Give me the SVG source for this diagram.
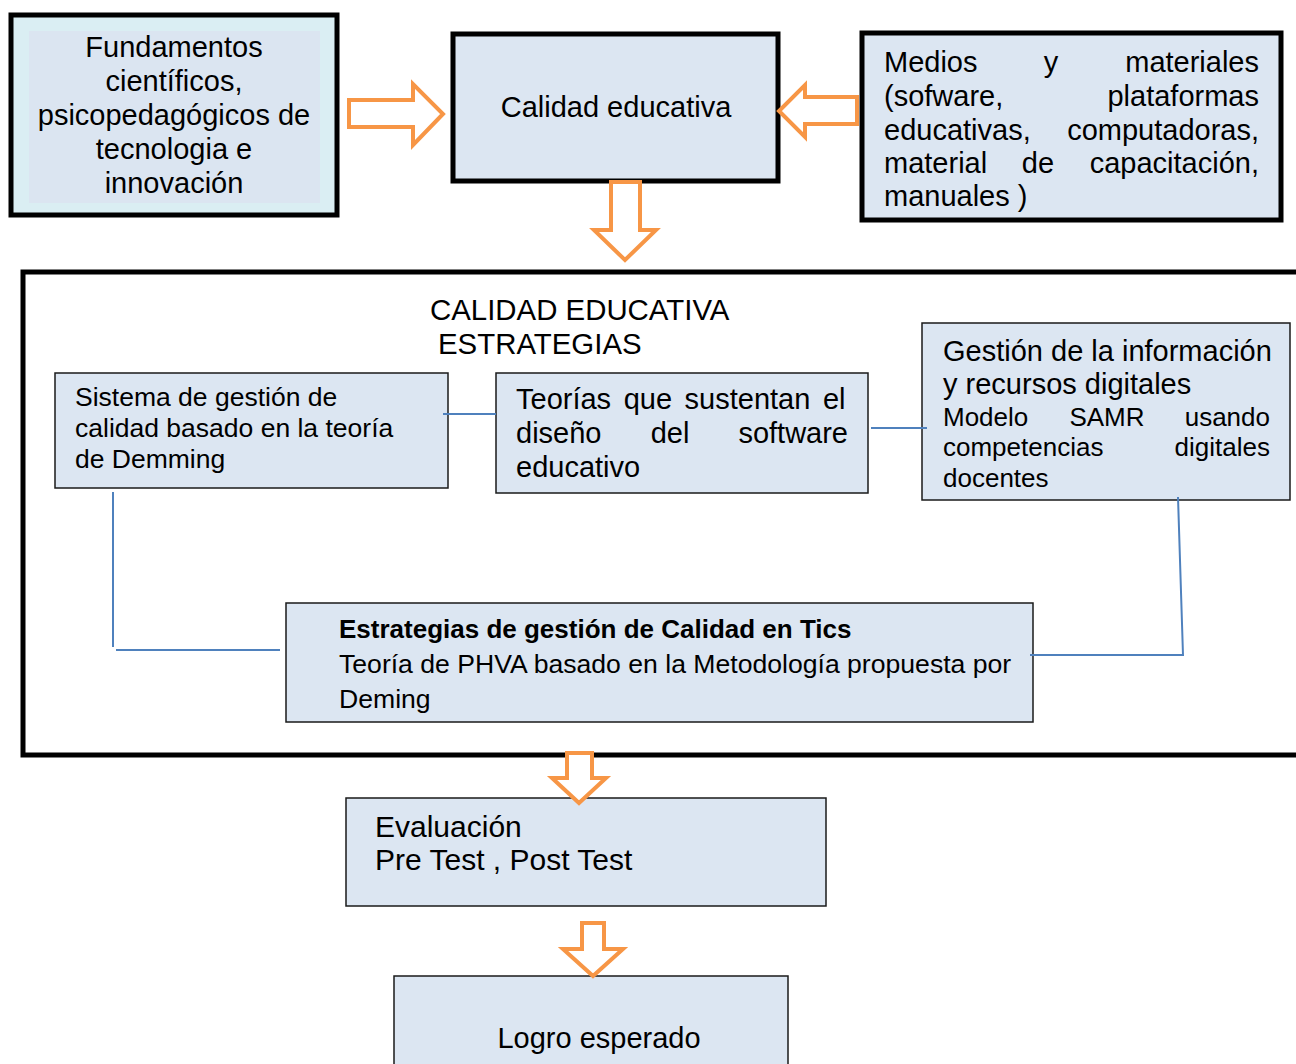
<svg xmlns="http://www.w3.org/2000/svg" width="1296" height="1064" viewBox="0 0 1296 1064">
<style>
text{font-family:"Liberation Sans",Arial,sans-serif;fill:#000}
.t29{font-size:29px}
.t30{font-size:30px}
.t26{font-size:26px}
.t266{font-size:26.6px}
.t265{font-size:26.5px}
.b{font-weight:bold}
.thick{fill:#DCE6F2;stroke:#000;stroke-width:5}
.thin{fill:#DCE6F2;stroke:#1a1a1a;stroke-width:1.5}
.conn{fill:none;stroke:#4F81BD;stroke-width:2}
.arrow{fill:#fff;stroke:#F79646;stroke-width:4;stroke-linejoin:miter}
</style>
<rect width="1296" height="1064" fill="#fff"/>

<g id="container">
<rect x="23" y="272" width="1290" height="483" fill="none" stroke="#000" stroke-width="5"/>
<text x="430" y="320" font-size="29.4">CALIDAD EDUCATIVA</text>
<text x="438" y="354" font-size="29.4">ESTRATEGIAS</text>
</g>

<g id="fundamentos">
<rect x="11" y="15" width="326" height="200" fill="#DAEEF3" stroke="#000" stroke-width="5"/>
<rect x="29" y="31" width="291" height="172" fill="#DBE5F1"/>
<g class="t29" text-anchor="middle">
<text x="174" y="57">Fundamentos</text>
<text x="174" y="91">científicos,</text>
<text x="174" y="125">psicopedagógicos de</text>
<text x="174" y="159">tecnologia e</text>
<text x="174" y="193">innovación</text>
</g>
</g>

<g id="calidad">
<rect class="thick" x="453" y="34" width="325" height="147"/>
<text class="t29" x="616" y="117" text-anchor="middle">Calidad educativa</text>
</g>

<g id="medios">
<rect class="thick" x="862" y="33" width="419" height="187"/>
<g class="t29">
<text x="884" y="72">Medios</text>
<text x="1051" y="72" text-anchor="middle">y</text>
<text x="1259" y="72" text-anchor="end">materiales</text>
<text x="884" y="106">(sofware,</text>
<text x="1259" y="106" text-anchor="end">plataformas</text>
<text x="884" y="140">educativas,</text>
<text x="1259" y="140" text-anchor="end">computadoras,</text>
<text x="884" y="173">material</text>
<text x="1038" y="173" text-anchor="middle">de</text>
<text x="1259" y="173" text-anchor="end">capacitación,</text>
<text x="884" y="206">manuales )</text>
</g>
</g>

<g id="sistema">
<rect class="thin" x="55" y="373" width="393" height="115"/>
<g class="t265">
<text x="75" y="406">Sistema de gestión de</text>
<text x="75" y="437">calidad basado en la teoría</text>
<text x="75" y="468">de Demming</text>
</g>
</g>

<g id="teorias">
<rect class="thin" x="496" y="373" width="372" height="120"/>
<g class="t29">
<text x="516" y="409" word-spacing="4.5">Teorías que sustentan el</text>
<text x="516" y="443">diseño</text>
<text x="670" y="443" text-anchor="middle">del</text>
<text x="848" y="443" text-anchor="end">software</text>
<text x="516" y="477">educativo</text>
</g>
</g>

<g id="gestion">
<rect class="thin" x="922" y="323" width="368" height="177"/>
<text class="t29" x="943" y="361">Gestión de la información</text>
<text class="t29" x="943" y="394">y recursos digitales</text>
<g class="t26">
<text x="943" y="426">Modelo</text>
<text x="1107" y="426" text-anchor="middle">SAMR</text>
<text x="1270" y="426" text-anchor="end">usando</text>
<text x="943" y="456">competencias</text>
<text x="1270" y="456" text-anchor="end">digitales</text>
<text x="943" y="487">docentes</text>
</g>
</g>

<g id="estrategias">
<rect class="thin" x="286" y="603" width="747" height="119"/>
<text class="t26 b" x="339" y="638">Estrategias de gestión de Calidad en Tics</text>
<text class="t266" x="339" y="673">Teoría de PHVA basado en la Metodología propuesta por</text>
<text class="t266" x="339" y="708">Deming</text>
</g>

<g id="evaluacion">
<rect class="thin" x="346" y="798" width="480" height="108"/>
<text class="t30" x="375" y="837">Evaluación</text>
<text class="t30" x="375" y="870">Pre Test , Post Test</text>
</g>

<g id="logro">
<rect class="thin" x="394" y="976" width="394" height="100"/>
<text class="t29" x="599" y="1048" text-anchor="middle">Logro esperado</text>
</g>

<g id="connectors">
<line class="conn" x1="443" y1="414" x2="496" y2="414"/>
<line class="conn" x1="871" y1="428" x2="927" y2="428"/>
<polyline class="conn" points="113,492 113,647"/>
<line class="conn" x1="116" y1="650" x2="280" y2="650"/>
<polyline class="conn" points="1178,497 1183,655 1030,655"/>
<polygon class="arrow" points="349,100 413,100 413,84 443,114 413,145 413,127 349,127"/>
<polygon class="arrow" points="857,97 805,97 805,85 779,111 805,137 805,124 857,124"/>
<polygon class="arrow" points="611,182 640,182 640,230 656,230 625,260 594,230 611,230"/>
<polygon class="arrow" points="567,753 592,753 592,778 606,778 579,803 552,778 567,778"/>
<polygon class="arrow" points="582,923 604,923 604,949 623,949 593,976 563,949 582,949"/>
</g>
</svg>
